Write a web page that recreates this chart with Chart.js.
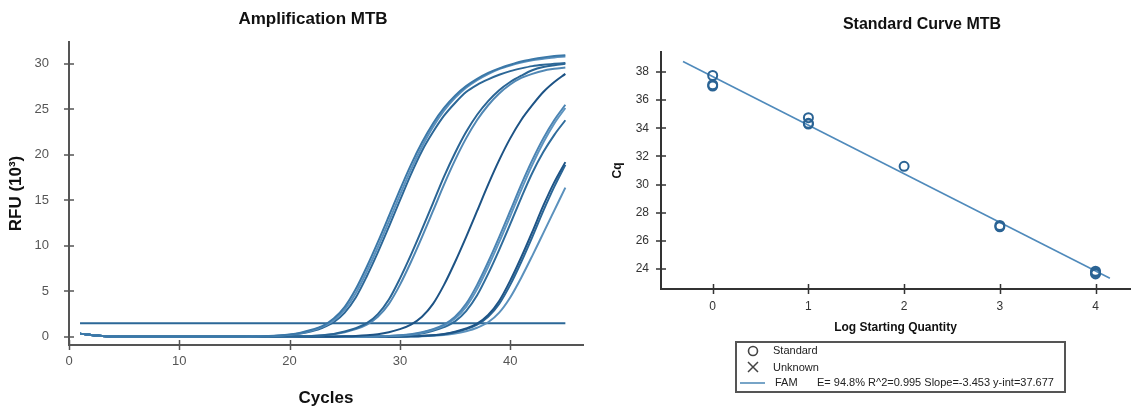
<!DOCTYPE html>
<html lang="en">
<head>
<meta charset="UTF-8">
<title>Amplification and Standard Curve MTB</title>
<script src="https://cdn.jsdelivr.net/npm/chart.js@4.4.0/dist/chart.umd.min.js"></script>
<style>
    body {
        margin: 0;
        background: #fff;
        font-family: Arial, 'Liberation Sans', sans-serif;
    }
    .wrap {
        position: relative;
        width: 1147px;
        height: 409px;
        overflow: hidden;
    }
    canvas {
        position: absolute;
        top: 0;
    }
    #ampChart { left: 0; }
    #stdChart { left: 600px; }
    .title {
        position: absolute;
        font-weight: bold;
        color: #111;
        white-space: nowrap;
        transform: translate(-50%, -50%);
    }
    #ampTitle { left: 313px; top: 19px; font-size: 17px; }
    #stdTitle { left: 922px; top: 24px; font-size: 16px; }
    .legend {
        position: absolute;
        left: 735px;
        top: 341px;
        width: 327px;
        height: 48px;
        border: 2px solid #555;
        font-size: 11px;
        color: #222;
    }
    .legend span {
        position: absolute;
        height: 14px;
        line-height: 14px;
        white-space: nowrap;
    }
    .legend svg { position: absolute; left: 0; top: 0; }
</style>
</head>
<body>
<div class="wrap">
    <canvas id="ampChart" width="600" height="409"></canvas>
    <canvas id="stdChart" width="547" height="409"></canvas>
    <div class="title" id="ampTitle">Amplification MTB</div>
    <div class="title" id="stdTitle">Standard Curve MTB</div>
    <div class="legend">
        <svg width="40" height="48">
            <circle cx="16" cy="8" r="4.5" fill="none" stroke="#444" stroke-width="1.6"/>
            <path d="M11 19 L21 29 M21 19 L11 29" stroke="#444" stroke-width="1.5"/>
            <line x1="3" y1="40" x2="28" y2="40" stroke="#4a86b4" stroke-width="1.5"/>
        </svg>
        <span style="left:36px; top:0px;">Standard</span>
        <span style="left:36px; top:17px;">Unknown</span>
        <span style="left:38px; top:32px;">FAM</span>
        <span style="left:80px; top:32px;">E= 94.8% R^2=0.995 Slope=-3.453 y-int=37.677</span>
    </div>
</div>

<script>
'use strict';

Chart.defaults.font.family = "Arial, 'Liberation Sans', sans-serif";
Chart.defaults.animation = false;

// ---- amplification data (RFU x10^3 per cycle) ----
const cycles = Array.from({length: 45}, (_, i) => i + 1);

const rfuA1 = [0.35, 0.2, 0.1, 0.04, 0, 0, 0, 0, 0, 0, 0, 0, 0, 0, 0,
    0.02, 0.04, 0.08, 0.14, 0.25, 0.45, 0.77, 1.2, 2.0, 3.3, 5.25, 7.7, 10.4, 13.25, 16.15,
    18.9, 21.35, 23.45, 25.15, 26.5, 27.55, 28.35, 29.0, 29.5, 29.9, 30.25, 30.5, 30.7, 30.85, 30.95];
const rfuA2 = [0.35, 0.2, 0.1, 0.04, 0, 0, 0, 0, 0, 0, 0, 0, 0, 0, 0,
    0, 0.04, 0.07, 0.12, 0.22, 0.4, 0.69, 1.12, 1.8, 2.98, 4.79, 7.18, 9.84, 12.67, 15.57,
    18.38, 20.89, 23.07, 24.85, 26.26, 27.37, 28.21, 28.88, 29.42, 29.82, 30.15, 30.4, 30.55, 30.7, 30.8];
const rfuA3 = [0.35, 0.2, 0.1, 0.04, 0, 0, 0, 0, 0, 0, 0, 0, 0, 0, 0,
    0, 0.03, 0.06, 0.11, 0.19, 0.35, 0.62, 1.0, 1.6, 2.66, 4.33, 6.66, 9.28, 12.09, 14.99,
    17.86, 20.43, 22.5, 24.3, 25.7, 26.9, 27.7, 28.3, 28.8, 29.2, 29.5, 29.75, 29.9, 30.0, 30.1];
const rfuB1 = [0.35, 0.2, 0.1, 0.04, 0, 0, 0, 0, 0, 0, 0, 0, 0, 0, 0,
    0, 0, 0, 0.01, 0.03, 0.06, 0.1, 0.18, 0.32, 0.58, 0.95, 1.5, 2.5, 4.1, 6.4,
    9.0, 11.8, 14.7, 17.6, 20.2, 22.5, 24.4, 25.9, 27.1, 28.0, 28.7, 29.3, 29.65, 29.85, 30.0];
const rfuB2 = [0.35, 0.2, 0.1, 0.04, 0, 0, 0, 0, 0, 0, 0, 0, 0, 0, 0,
    0, 0, 0, 0, 0.02, 0.05, 0.09, 0.16, 0.28, 0.5, 0.84, 1.34, 2.2, 3.62, 5.71,
    8.22, 10.96, 13.83, 16.73, 19.42, 21.81, 23.83, 25.45, 26.74, 27.73, 28.45, 28.9, 29.25, 29.45, 29.6];
const rfuC1 = [0.35, 0.2, 0.1, 0.04, 0, 0, 0, 0, 0, 0, 0, 0, 0, 0, 0,
    0, 0, 0, 0, 0, 0, 0, 0, 0.02, 0.05, 0.09, 0.16, 0.28, 0.5, 0.84,
    1.34, 2.2, 3.62, 5.71, 8.22, 10.96, 13.83, 16.73, 19.42, 21.81, 23.83, 25.45, 26.9, 28.0, 28.9];
const rfuD1 = [0.35, 0.2, 0.1, 0.04, 0, 0, 0, 0, 0, 0, 0, 0, 0, 0, 0,
    0, 0, 0, 0, 0, 0, 0, 0, 0, 0, 0, 0.02, 0.05, 0.09, 0.16,
    0.28, 0.5, 0.84, 1.34, 2.2, 3.62, 5.71, 8.22, 10.96, 13.83, 16.73, 19.42, 21.81, 23.83, 25.5];
const rfuD2 = [0.35, 0.2, 0.1, 0.04, 0, 0, 0, 0, 0, 0, 0, 0, 0, 0, 0,
    0, 0, 0, 0, 0, 0, 0, 0, 0, 0, 0, 0.02, 0.045, 0.08, 0.14,
    0.25, 0.45, 0.77, 1.22, 2.0, 3.3, 5.25, 7.7, 10.4, 13.25, 16.15, 18.9, 21.35, 23.45, 25.15];
const rfuD3 = [0.35, 0.2, 0.1, 0.04, 0, 0, 0, 0, 0, 0, 0, 0, 0, 0, 0,
    0, 0, 0, 0, 0, 0, 0, 0, 0, 0, 0, 0, 0.04, 0.07, 0.12,
    0.21, 0.37, 0.65, 1.06, 1.7, 2.82, 4.56, 6.92, 9.56, 12.38, 15.28, 18.0, 20.3, 22.2, 23.8];
const rfuE1 = [0.35, 0.2, 0.1, 0.04, 0, 0, 0, 0, 0, 0, 0, 0, 0, 0, 0,
    0, 0, 0, 0, 0, 0, 0, 0, 0, 0, 0, 0, 0, 0, 0.03,
    0.06, 0.1, 0.17, 0.31, 0.55, 0.91, 1.45, 2.4, 3.94, 6.17, 8.74, 11.52, 14.41, 17.0, 19.2];
const rfuE2 = [0.35, 0.2, 0.1, 0.04, 0, 0, 0, 0, 0, 0, 0, 0, 0, 0, 0,
    0, 0, 0, 0, 0, 0, 0, 0, 0, 0, 0, 0, 0, 0, 0.02,
    0.05, 0.09, 0.16, 0.28, 0.5, 0.84, 1.34, 2.2, 3.62, 5.71, 8.22, 10.96, 13.83, 16.5, 18.9];
const rfuE3 = [0.35, 0.2, 0.1, 0.04, 0, 0, 0, 0, 0, 0, 0, 0, 0, 0, 0,
    0, 0, 0, 0, 0, 0, 0, 0, 0, 0, 0, 0, 0, 0, 0,
    0.03, 0.06, 0.11, 0.19, 0.35, 0.62, 1.0, 1.6, 2.66, 4.33, 6.5, 8.9, 11.4, 13.9, 16.4];

const ampCurves = [rfuA1, rfuA2, rfuA3, rfuB1, rfuB2, rfuC1, rfuD1, rfuD2, rfuD3, rfuE1, rfuE2, rfuE3];
const curveColors = ['#3b78a8', '#5a90bd', '#2c6797', '#2a6595', '#5188b5', '#1d5385',
                     '#4b84b3', '#5f95c0', '#2f6c9c', '#1e5486', '#2b6696', '#5b91bd'];

const thresholdCycles = [1, 45];
const thresholdRfu = [1.5, 1.5];

const ampXTicks = [0, 10, 20, 30, 40];
const ampYTicks = [0, 5, 10, 15, 20, 25, 30];

// ---- standard curve data ----
const logQty = [0, 0, 0, 1, 1, 1, 2, 3, 3, 4, 4, 4];
const cqValues = [37.0, 37.1, 37.75, 34.3, 34.35, 34.75, 31.3, 27.0, 27.1, 23.65, 23.75, 23.85];
const fitX = [-0.31, 4.15];
const fitY = [38.75, 23.35];
const stdXTicks = [0, 1, 2, 3, 4];
const stdYTicks = [24, 26, 28, 30, 32, 34, 36, 38];

// tick marks that cross the axis line on both sides
const crossTicks = {
    id: 'crossTicks',
    afterDraw(chart, args, opts) {
        const ctx = chart.ctx;
        const xs = chart.scales.x;
        const ys = chart.scales.y;
        ctx.save();
        ctx.strokeStyle = opts.color;
        ctx.lineWidth = opts.width;
        ctx.beginPath();
        xs.ticks.forEach(t => {
            const px = Math.round(xs.getPixelForValue(t.value)) + 0.5;
            ctx.moveTo(px, xs.top - opts.len);
            ctx.lineTo(px, xs.top + opts.len);
        });
        ys.ticks.forEach(t => {
            const py = Math.round(ys.getPixelForValue(t.value));
            ctx.moveTo(ys.right - opts.len, py);
            ctx.lineTo(ys.right + opts.len, py);
        });
        ctx.stroke();
        ctx.restore();
    }
};

const toPoints = (xs, ys) => xs.map((x, i) => ({x: x, y: ys[i]}));

// ---- amplification chart ----
const ampDatasets = ampCurves.map((curve, i) => ({
    data: toPoints(cycles, curve),
    borderColor: curveColors[i],
    borderWidth: 2,
    pointRadius: 0,
    cubicInterpolationMode: 'monotone'
}));
ampDatasets.push({
    data: toPoints(thresholdCycles, thresholdRfu),
    borderColor: '#2b6797',
    borderWidth: 2,
    pointRadius: 0
});

new Chart(document.getElementById('ampChart'), {
    type: 'line',
    data: { datasets: ampDatasets },
    options: {
        responsive: false,
        layout: { padding: { left: 0, right: 17, top: 42, bottom: 0 } },
        plugins: {
            legend: { display: false },
            tooltip: { enabled: false },
            crossTicks: { color: '#555', width: 1.5, len: 5 }
        },
        scales: {
            x: {
                type: 'linear',
                min: 0,
                max: 46.6,
                afterBuildTicks: s => { s.ticks = ampXTicks.map(v => ({value: v})); },
                afterFit: s => { s.height = 64; },
                grid: { display: false, tickLength: 5 },
                border: { color: '#555', width: 2 },
                ticks: { color: '#555', font: { size: 13 }, padding: 4, maxRotation: 0 },
                title: {
                    display: true, text: 'Cycles', color: '#111',
                    font: { size: 17, weight: 'bold' }, padding: { top: 0, bottom: 0 }
                }
            },
            y: {
                min: -0.9,
                max: 32.4,
                afterBuildTicks: s => { s.ticks = ampYTicks.map(v => ({value: v})); },
                afterFit: s => { s.width = 69; },
                grid: { display: false, tickLength: 5 },
                border: { color: '#555', width: 2 },
                ticks: { color: '#555', font: { size: 13 }, padding: 15 },
                title: {
                    display: true, text: 'RFU (10³)', color: '#111',
                    font: { size: 17, weight: 'bold' }, padding: { top: 6, bottom: 0 }
                }
            }
        }
    },
    plugins: [crossTicks]
});

// ---- standard curve chart ----
new Chart(document.getElementById('stdChart'), {
    data: {
        datasets: [
            {
                type: 'scatter',
                label: 'Standard',
                data: toPoints(logQty, cqValues),
                pointStyle: 'circle',
                pointRadius: 4.5,
                borderWidth: 2,
                borderColor: '#2a6394',
                backgroundColor: 'rgba(255,255,255,0)',
                order: 1
            },
            {
                type: 'line',
                label: 'FAM',
                data: toPoints(fitX, fitY),
                borderColor: '#4f8abb',
                borderWidth: 1.6,
                pointRadius: 0,
                order: 2
            }
        ]
    },
    options: {
        responsive: false,
        layout: { padding: { left: 0, right: 17, top: 52, bottom: 73.8 } },
        plugins: {
            legend: { display: false },
            tooltip: { enabled: false },
            crossTicks: { color: '#333', width: 1.5, len: 5 }
        },
        scales: {
            x: {
                type: 'linear',
                min: -0.54,
                max: 4.36,
                afterBuildTicks: s => { s.ticks = stdXTicks.map(v => ({value: v})); },
                afterFit: s => { s.height = 46.2; },
                grid: { display: false, tickLength: 5 },
                border: { color: '#333', width: 2 },
                ticks: { color: '#333', font: { size: 12 }, padding: 5, maxRotation: 0 },
                title: {
                    display: true, text: 'Log Starting Quantity', color: '#111',
                    font: { size: 12, weight: 'bold' }, padding: { top: 0, bottom: 0 }
                }
            },
            y: {
                type: 'linear',
                min: 22.58,
                max: 39.42,
                afterBuildTicks: s => { s.ticks = stdYTicks.map(v => ({value: v})); },
                afterFit: s => { s.width = 61; },
                grid: { display: false, tickLength: 5 },
                border: { color: '#333', width: 2 },
                ticks: { color: '#333', font: { size: 12 }, padding: 7 },
                title: {
                    display: true, text: 'Cq', color: '#111',
                    font: { size: 12, weight: 'bold' }, padding: { top: 10.8, bottom: 0 }
                }
            }
        }
    },
    plugins: [crossTicks]
});
</script>
</body>
</html>
